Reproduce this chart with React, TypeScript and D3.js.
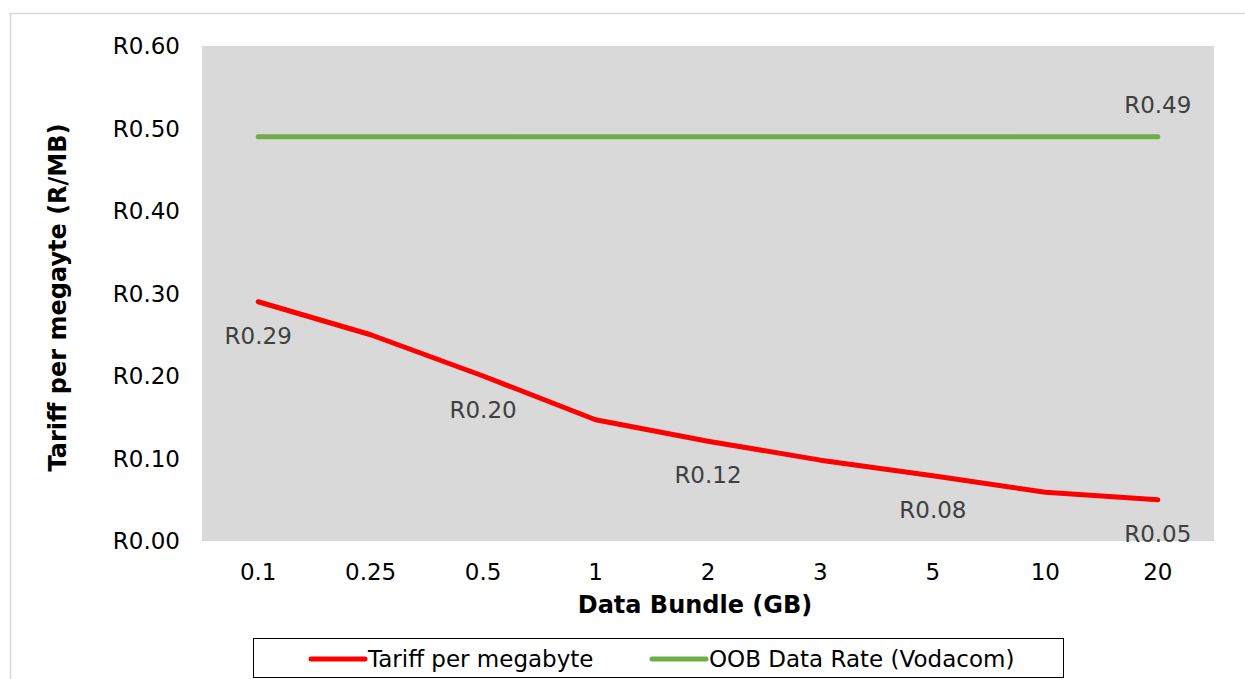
import * as d3 from 'd3';

const bundles = ['0.1', '0.25', '0.5', '1', '2', '3', '5', '10', '20'];
const tariff = [0.29, 0.25, 0.2, 0.147, 0.121, 0.098, 0.079, 0.059, 0.05];
const oobRate = [0.49, 0.49, 0.49, 0.49, 0.49, 0.49, 0.49, 0.49, 0.49];
const tariffLabelIdx = [0, 2, 4, 6, 8];
const oobLabelIdx = [8];
const yTicks = [0, 0.1, 0.2, 0.3, 0.4, 0.5, 0.6];

const W = 1245;
const H = 679;
const plot = { left: 202, right: 1214, top: 46, bottom: 541 };
const font = '"DejaVu Sans", Verdana, sans-serif';
const RED = '#ff0000';
const GREEN = '#70ad47';
const FS = 23;
const FSB = 24;

const fmt = (v: number) => 'R' + v.toFixed(2);

export default function App() {
  const x = d3.scaleBand<string>().domain(bundles).range([plot.left, plot.right]);
  const cx = (c: string) => (x(c) ?? 0) + x.bandwidth() / 2;
  const y = d3.scaleLinear().domain([0, 0.6]).range([plot.bottom, plot.top]);

  const line = d3
    .line<number>()
    .x((_, i) => cx(bundles[i]))
    .y((d) => y(d));

  return (
    <svg
      width={W}
      height={H}
      style={{ position: 'absolute', left: 0, top: 0, fontFamily: font }}
    >
      <rect x={0} y={0} width={W} height={H} fill="#fff" />
      <rect x={10.5} y={13.5} width={W + 10} height={H + 10} fill="none" stroke="#d9d9d9" strokeWidth={1.5} />
      <rect
        x={plot.left}
        y={plot.top}
        width={plot.right - plot.left}
        height={plot.bottom - plot.top}
        fill="#d9d9d9"
      />

      {yTicks.map((t) => (
        <text
          key={t}
          x={180}
          y={y(t)}
          dy="0.36em"
          textAnchor="end"
          fontSize={FS}
          fill="#000"
        >
          {fmt(t)}
        </text>
      ))}

      {bundles.map((b) => (
        <text key={b} x={cx(b)} y={580} textAnchor="middle" fontSize={FS} fill="#000">
          {b}
        </text>
      ))}

      <text x={695} y={613} textAnchor="middle" fontSize={FSB} fontWeight="bold" fill="#000">
        Data Bundle (GB)
      </text>
      <text
        transform={`translate(66,${(plot.top + plot.bottom) / 2 + 4}) rotate(-90)`}
        textAnchor="middle"
        fontSize={FSB}
        fontWeight="bold"
        fill="#000"
      >
        Tariff per megayte (R/MB)
      </text>

      <path d={line(oobRate) ?? ''} fill="none" stroke={GREEN} strokeWidth={5} strokeLinecap="round" strokeLinejoin="round" />
      <path d={line(tariff) ?? ''} fill="none" stroke={RED} strokeWidth={5} strokeLinecap="round" strokeLinejoin="round" />

      {tariffLabelIdx.map((i) => (
        <text
          key={'t' + i}
          x={cx(bundles[i])}
          y={y(tariff[i]) + 34}
          dy="0.36em"
          textAnchor="middle"
          fontSize={FS}
          fill="#404040"
        >
          {fmt(tariff[i])}
        </text>
      ))}
      {oobLabelIdx.map((i) => (
        <text
          key={'o' + i}
          x={cx(bundles[i])}
          y={y(oobRate[i]) - 32}
          dy="0.36em"
          textAnchor="middle"
          fontSize={FS}
          fill="#404040"
        >
          {fmt(oobRate[i])}
        </text>
      ))}

      <rect x={253.5} y={638.5} width={810} height={39} fill="#fff" stroke="#000" strokeWidth={1} />
      <line x1={311} x2={365} y1={659} y2={659} stroke={RED} strokeWidth={5} strokeLinecap="round" />
      <text x={368} y={659} dy="0.36em" fontSize={FS} fill="#000">
        Tariff per megabyte
      </text>
      <line x1={652} x2={706} y1={659} y2={659} stroke={GREEN} strokeWidth={5} strokeLinecap="round" />
      <text x={709} y={659} dy="0.36em" fontSize={FS} fill="#000">
        OOB Data Rate (Vodacom)
      </text>
    </svg>
  );
}
